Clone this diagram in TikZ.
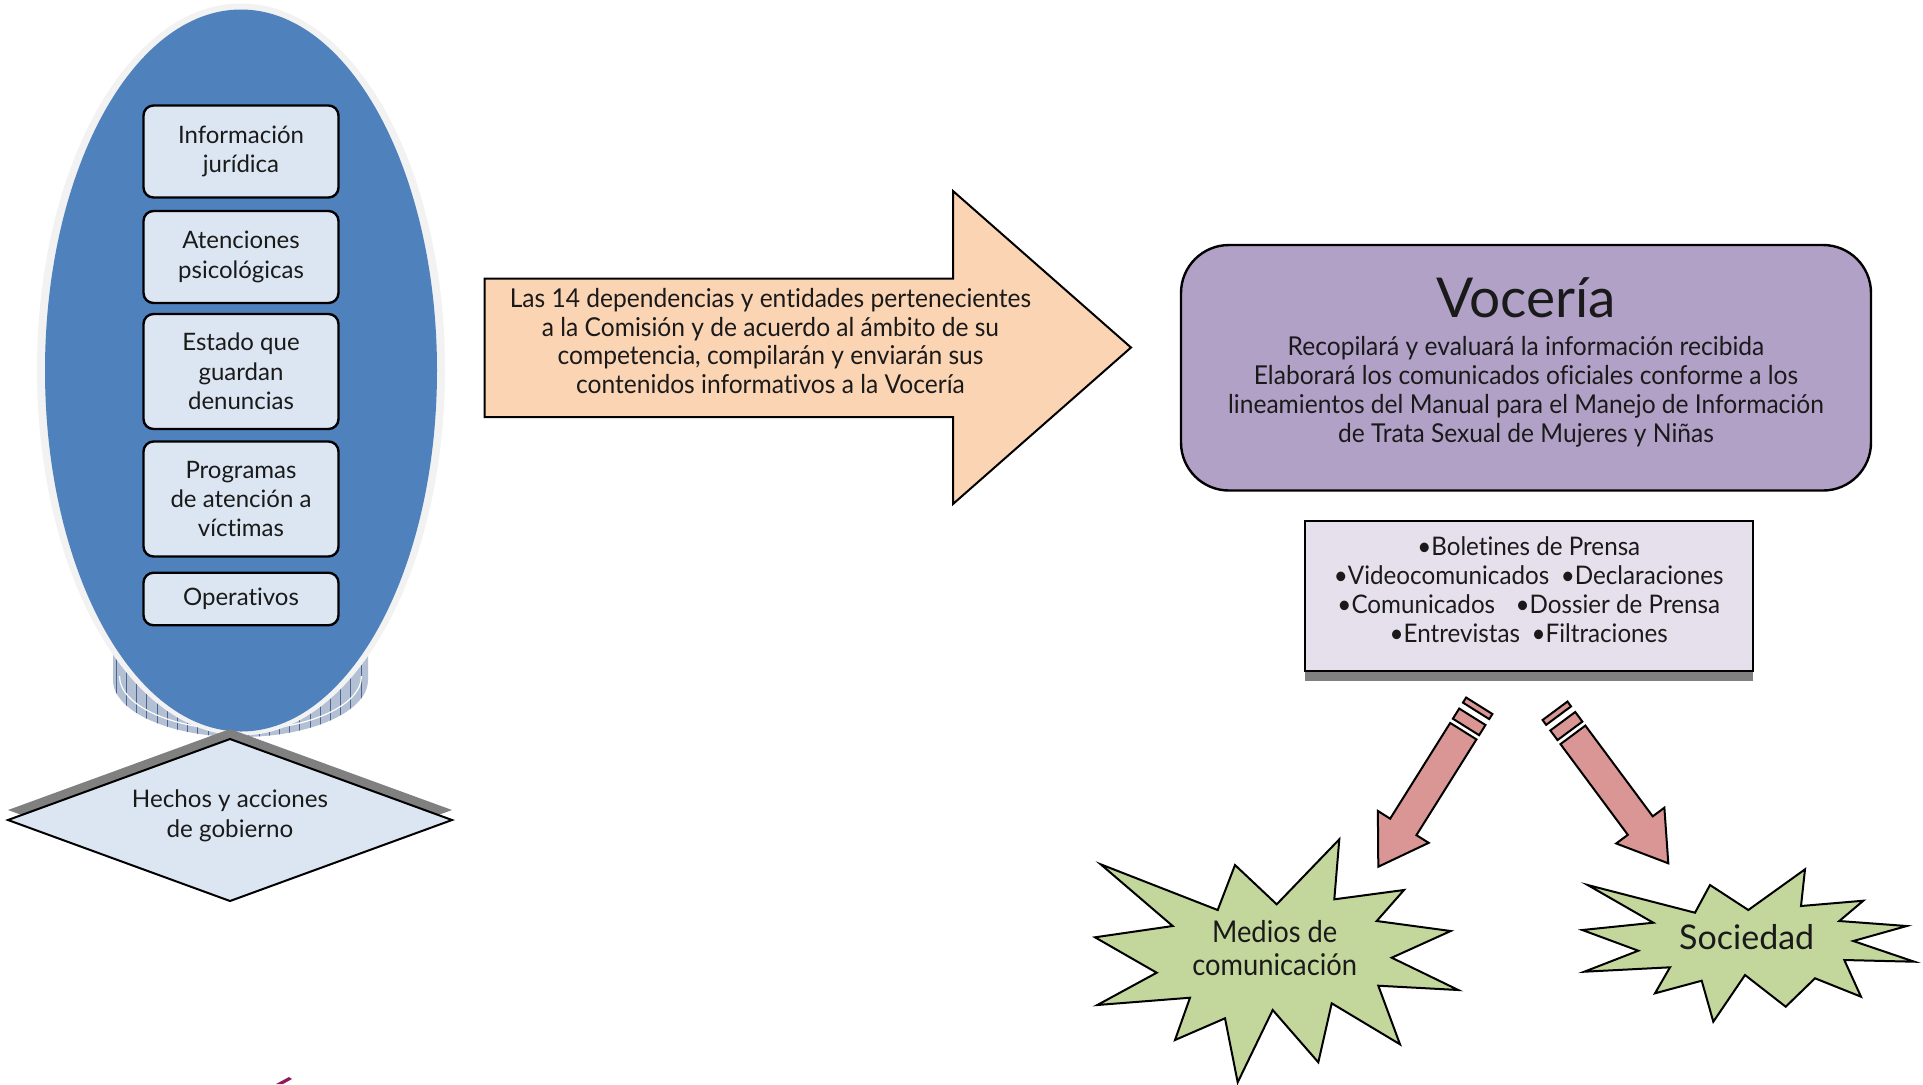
\documentclass[tikz,border=0pt]{standalone}
\usepackage{fontspec}
\setmainfont{Lato}[Ligatures=NoCommon]
\newfontfamily\condfont[FakeStretch=0.945,Ligatures=NoCommon]{Lato}
\newfontfamily\medfont[FakeStretch=0.91,Ligatures=NoCommon]{Lato}
\usetikzlibrary{calc,shapes.geometric}
\definecolor{ringgray}{HTML}{F2F2F2}
\definecolor{ellblue}{HTML}{4F81BD}
\definecolor{boxblue}{HTML}{DCE6F2}
\definecolor{peach}{HTML}{FBD4B4}
\definecolor{lilac}{HTML}{B2A1C7}
\definecolor{lavender}{HTML}{E5E0EC}
\definecolor{pinkarr}{HTML}{D99694}
\definecolor{stargreen}{HTML}{C3D69B}
\definecolor{basefill}{HTML}{B3BFD3}
\definecolor{basehatch}{HTML}{4A6594}
\definecolor{shadowgray}{HTML}{808080}
\definecolor{txt}{HTML}{1A1A1A}
\definecolor{magmark}{HTML}{8E1B5E}
\begin{document}
\begin{tikzpicture}[x=0.5pt,y=-0.5pt,
  ibox/.style={draw=black, line width=1.2pt, fill=boxblue, rounded corners=5pt,
    minimum width=97.5pt, align=center, inner sep=0pt, text=txt,
    font=\fontsize{12}{14.7}\selectfont},
  plain/.style={align=center, inner sep=0pt, text=txt},
  outl/.style={draw=black, line width=1pt, line join=miter},
  pinkshape/.style={draw=black, line width=1pt, fill=pinkarr, line join=miter}
]
\useasboundingbox (0,0) rectangle (1923,1084);
\fill[white] (0,0) rectangle (1923,1084);

% ---- base under the ellipse
\begin{scope}
  \clip (113,640) -- (113,680) arc[start angle=180, end angle=0, x radius=127.5, y radius=57] -- (368,640) -- cycle;
  \fill[basefill] (100,630) rectangle (380,745);
  \foreach \i in {0,...,25} {
    \draw[basehatch, line width=0.3pt] ({116+\i*10.2},640) -- ({116+\i*10.2},745);
  }
  \draw[white, line width=0.6pt] (119.5,676) arc[start angle=180, end angle=0, x radius=121, y radius=54];
\end{scope}

% ---- big ellipse
\fill[ringgray] (241,369.5) ellipse [x radius=204, y radius=366];
\node[ellipse, fill=ellblue, minimum width=196pt, minimum height=361pt, inner sep=0pt] (ell) at (241,370.5) {};

% ---- inner boxes
\node[ibox, minimum height=46pt] (b1) at (241,151.5) {Información\\jurídica};
\node[ibox, minimum height=46pt] (b2) at (241,257) {Atenciones\\psicológicas};
\node[ibox, minimum height=57.5pt] (b3) at (241,371.5) {Estado que\\guardan\\denuncias};
\node[ibox, minimum height=57.5pt] (b4) at (241,499) {Programas\\de atención a\\víctimas};
\node[ibox, minimum height=26.25pt] (b5) at (241,599) {Operativos};

% ---- diamond
\fill[shadowgray] (8,810) -- (230,729) -- (452,810) -- (230,891) -- cycle;
\draw[outl, fill=boxblue] (8,820) -- (230,739) -- (452,820) -- (230,901) -- cycle;
\node[plain, font=\fontsize{12.1}{15}\selectfont] (hechos) at (230,816) {Hechos y acciones\\de gobierno};

% ---- big arrow
\draw[outl, fill=peach] (484.5,278.5) -- (953,278.5) -- (953,191) -- (1131,347.5) -- (953,504) -- (953,417) -- (484.5,417) -- cycle;
\node[plain, font=\condfont\fontsize{13}{14.4}\selectfont] (arrtxt) at (770.5,341) {Las 14 dependencias y entidades pertenecientes\\a la Comisión y de acuerdo al ámbito de su\\competencia, compilarán y enviarán sus\\contenidos informativos a la Vocería};

% ---- Voceria box
\node[draw=black, line width=1.2pt, fill=lilac, rounded corners=24pt, minimum width=345pt, minimum height=122.75pt, inner sep=0pt] (voc) at (1526,367.75) {};
\node[plain, font=\fontsize{27.5}{31}\selectfont] (voctitle) at (1526,298) {Vocería};
\node[plain, font=\condfont\fontsize{13}{14.5}\selectfont] (vocbody) at (1526,392) {Recopilará y evaluará la información recibida\\Elaborará los comunicados oficiales conforme a los\\lineamientos del Manual para el Manejo de Información\\de Trata Sexual de Mujeres y Niñas};

% ---- bullet box
\fill[shadowgray] (1305,530) rectangle (1752.5,681);
\node[draw=black, line width=1pt, fill=lavender, minimum width=223.75pt, minimum height=75pt, inner sep=0pt] (bul) at (1528.75,596) {};
\node[plain, font=\condfont\fontsize{12.8}{14.5}\selectfont] (bultxt) at (1528.75,589.5) {•Boletines de Prensa\\•Videocomunicados\hspace{0.45em}•Declaraciones\\•Comunicados\hspace{0.8em}•Dossier de Prensa\\•Entrevistas\hspace{0.45em}•Filtraciones};

% ---- pink arrows
\begin{scope}[shift={(1378.3,866.7)}, rotate=237.9]
  \draw[pinkshape] (0,0) -- (-47,30) -- (-47,15.5) -- (-160,15.5) -- (-160,-15.5) -- (-47,-15.5) -- (-47,-30) -- cycle;
  \draw[pinkshape] (-177,-15.5) rectangle (-165,15.5);
  \draw[pinkshape] (-190,-15.5) rectangle (-184,15.5);
\end{scope}
\begin{scope}[shift={(1668.3,863.3)}, rotate=-53.4]
  \draw[pinkshape] (0,0) -- (-47,30) -- (-47,15.5) -- (-160,15.5) -- (-160,-15.5) -- (-47,-15.5) -- (-47,-30) -- cycle;
  \draw[pinkshape] (-177,-15.5) rectangle (-165,15.5);
  \draw[pinkshape] (-190,-15.5) rectangle (-184,15.5);
\end{scope}

% ---- stars
\draw[outl, fill=stargreen] (1100.7,864.3) -- (1217.7,910) -- (1235,865) -- (1276.7,904.3) -- (1339.3,839.3) -- (1334.3,899.3) -- (1404,890) -- (1376.7,921) -- (1450.7,931) -- (1391.7,957.7) -- (1458.3,990) -- (1378.3,985.7) -- (1400,1044.3) -- (1331.7,1003.3) -- (1318.3,1062.3) -- (1272.7,1010) -- (1237.7,1082.3) -- (1225,1018.3) -- (1175,1040) -- (1190,997.7) -- (1097.3,1005) -- (1156.7,972.7) -- (1095,937.3) -- (1172.7,926) -- cycle;
\node[plain, font=\medfont\fontsize{15}{16.5}\selectfont] (medios) at (1274.7,948) {Medios de\\comunicación};

\draw[outl, fill=stargreen] (1587.7,885) -- (1695,912.7) -- (1710,885) -- (1748.3,910) -- (1805,869.3) -- (1801,906) -- (1863.3,900.7) -- (1839.3,921) -- (1906.7,926) -- (1853.3,941) -- (1914.3,961.7) -- (1844.3,960) -- (1861,996.7) -- (1815,978.3) -- (1785.7,1006.7) -- (1745,975) -- (1713.3,1021.7) -- (1701.7,980.7) -- (1655,993.3) -- (1670,967.3) -- (1584.3,971.7) -- (1638.3,950.7) -- (1582.3,930) -- (1653.3,922.7) -- cycle;
\node[plain, font=\fontsize{17}{20}\selectfont] (soc) at (1746.7,937.3) {Sociedad};

% ---- small magenta mark
\fill[magmark] (276,1084) -- (289,1077) -- (292,1079) -- (283,1084) -- cycle;
\end{tikzpicture}
\end{document}
